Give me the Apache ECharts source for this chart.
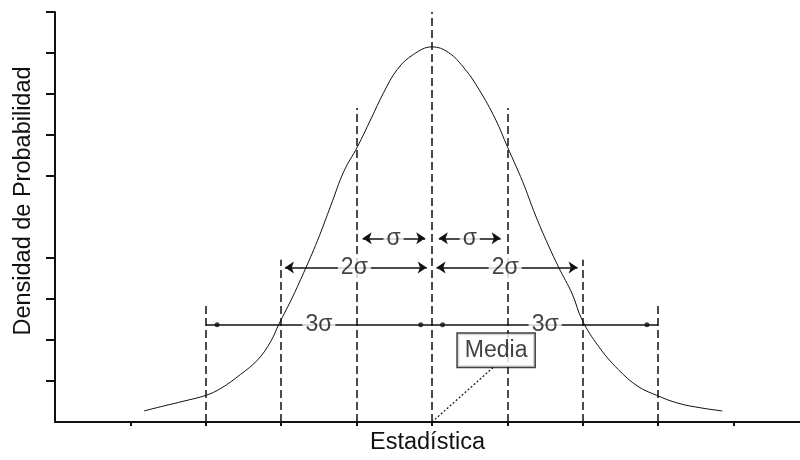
<!DOCTYPE html>
<html>
<head>
<meta charset="utf-8">
<script src="https://cdn.jsdelivr.net/npm/echarts@6/dist/echarts.min.js"></script>
<style>
  html, body { margin: 0; padding: 0; background: #fff; }
  #chart { width: 800px; height: 460px; }
</style>
</head>
<body>
<div id="chart"></div>
<script>
// x in units of sigma, y in tick units of the density axis
const sigmaTicks = [-4, -3, -2, -1, 0, 1, 2, 3, 4]
const densityTicks = [1, 2, 3, 4, 6, 7, 8, 9, 10]

const curveX = [-3.82, -3.56, -3.29, -3.00, -2.80, -2.54, -2.31, -2.14, -2.03, -1.87, -1.70, -1.52, -1.34, -1.17, -0.99, -0.81, -0.64, -0.46, -0.25, 0,
  0.22, 0.44, 0.62, 0.84, 1.00, 1.20, 1.37, 1.54, 1.68, 1.86, 1.99, 2.21, 2.47, 2.73, 2.98, 3.26, 3.58, 3.85]
const curveY = [0.27, 0.39, 0.51, 0.65, 0.82, 1.16, 1.52, 1.96, 2.39, 2.97, 3.65, 4.42, 5.29, 6.11, 6.71, 7.39, 8.04, 8.60, 8.96, 9.15,
  9.01, 8.60, 8.12, 7.39, 6.71, 5.87, 5.05, 4.32, 3.77, 3.12, 2.49, 1.84, 1.28, 0.87, 0.65, 0.46, 0.34, 0.27]

const guideX = [-3, -2, -1, 0, 1, 2, 3]
const guideTop = [2.90, 3.96, 7.66, 10, 7.66, 3.96, 2.90]

const arrowStart = [-0.92, 0.09, -1.95, 0.06]
const arrowEnd = [-0.09, 0.91, -0.07, 1.93]
const arrowLevel = [4.48, 4.48, 3.77, 3.77]

const spanStart = [-3, 0]
const spanEnd = [0, 3]
const spanLevel = 2.37
const dotX = [-2.85, -0.15, 0.14, 2.85]

const labelText = ['σ', 'σ', '2σ', '2σ', '3σ', '3σ']
const labelX = [-0.51, 0.50, -1.03, 0.97, -1.50, 1.50]
const labelY = [4.48, 4.48, 3.77, 3.77, 2.37, 2.37]

const mediaPos = [0.85, 1.75]
const mediaLeader = [[0.81, 1.33], [0, 0]]

const font = 'Liberation Sans, Arial, sans-serif'
const ink = '#111'

const lines = []
guideX.forEach(function (x, i) {
  lines.push([
    { coord: [x, 0], symbol: 'none' },
    { coord: [x, guideTop[i]], symbol: 'none', lineStyle: { type: [8, 4], width: 1.5, color: ink } }
  ])
})
arrowStart.forEach(function (x, i) {
  lines.push([
    { coord: [x, arrowLevel[i]], symbol: 'arrow' },
    { coord: [arrowEnd[i], arrowLevel[i]], symbol: 'arrow', lineStyle: { type: 'solid', width: 1.5, color: ink } }
  ])
})
spanStart.forEach(function (x, i) {
  lines.push([
    { coord: [x, spanLevel], symbol: 'none' },
    { coord: [spanEnd[i], spanLevel], symbol: 'none', lineStyle: { type: 'solid', width: 1.5, color: ink } }
  ])
})
lines.push([
  { coord: mediaLeader[0], symbol: 'none' },
  { coord: mediaLeader[1], symbol: 'none', lineStyle: { type: [2, 2], width: 1.2, color: ink } }
])

const chart = echarts.init(document.getElementById('chart'))
chart.setOption({
  animation: false,
  backgroundColor: '#fff',
  grid: { left: 55, right: 0, top: 12, bottom: 34 },
  xAxis: {
    type: 'value',
    min: -5,
    max: 4.88,
    name: 'Estadística',
    nameLocation: 'middle',
    nameGap: 9,
    nameTextStyle: { fontFamily: font, fontSize: 23.5, color: ink },
    axisLine: { show: true, onZero: false, lineStyle: { color: ink, width: 2 } },
    axisTick: { show: true, customValues: sigmaTicks, length: 4, lineStyle: { color: ink, width: 2 } },
    axisLabel: { show: false },
    splitLine: { show: false }
  },
  yAxis: {
    type: 'value',
    min: 0,
    max: 10,
    name: 'Densidad de Probabilidad',
    nameLocation: 'middle',
    nameGap: 19,
    nameTextStyle: { fontFamily: font, fontSize: 23.5, color: ink, padding: [0, 0, 0, 32] },
    axisLine: { show: true, onZero: false, lineStyle: { color: ink, width: 2 } },
    axisTick: { show: true, customValues: densityTicks, length: 9, lineStyle: { color: ink, width: 2 } },
    axisLabel: { show: false },
    splitLine: { show: false }
  },
  series: [
    {
      type: 'line',
      data: curveX.map(function (x, i) { return [x, curveY[i]] }),
      smooth: 0.4,
      showSymbol: false,
      silent: true,
      lineStyle: { color: ink, width: 1 },
      markLine: {
        silent: true,
        animation: false,
        symbolSize: 9,
        label: { show: false },
        emphasis: { disabled: true },
        data: lines
      }
    },
    {
      type: 'scatter',
      data: dotX.map(function (x) { return [x, spanLevel] }),
      symbolSize: 5,
      silent: true,
      itemStyle: { color: ink }
    },
    {
      type: 'scatter',
      z: 5,
      silent: true,
      symbolSize: 1,
      itemStyle: { color: 'rgba(0,0,0,0)' },
      data: labelX.map(function (x, i) { return [x, labelY[i], labelText[i]] }),
      label: {
        show: true,
        position: 'inside',
        formatter: function (p) { return p.value[2] },
        fontFamily: font,
        fontSize: 23,
        lineHeight: 22,
        color: ink,
        backgroundColor: '#fff',
        padding: [0, 3]
      }
    },
    {
      type: 'scatter',
      z: 6,
      silent: true,
      symbolSize: 1,
      itemStyle: { color: 'rgba(0,0,0,0)' },
      data: [mediaPos],
      label: {
        show: true,
        position: 'inside',
        formatter: 'Media',
        fontFamily: font,
        fontSize: 23,
        lineHeight: 27,
        color: ink,
        backgroundColor: '#fff',
        borderColor: ink,
        borderWidth: 1.5,
        padding: [3, 7]
      }
    }
  ]
})
</script>
</body>
</html>
